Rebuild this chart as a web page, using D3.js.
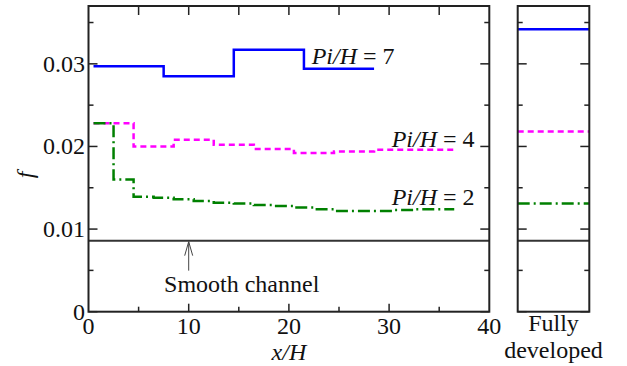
<!DOCTYPE html>
<html>
<head>
<meta charset="utf-8">
<script src="https://cdn.jsdelivr.net/npm/d3@7"></script>
<style>
  body { margin: 0; background: #ffffff; }
</style>
</head>
<body>
<div id="chart"></div>
<script>
// step edges (x/H) and friction factor values for each rib pitch
const edges7 = [0.5, 7.5, 14.5, 21.5, 28.5]
const vals7 = [0.0297, 0.0285, 0.0317, 0.0294]
const edges4 = [0.5, 4.5, 8.5, 12.5, 16.5, 20.5, 24.5, 28.5, 36.5]
const vals4 = [0.0228, 0.0200, 0.0208, 0.0202, 0.0197, 0.0192, 0.0194, 0.0196]
const edges2 = [0.5, 2.5, 4.5, 6.5, 8.5, 10.5, 12.5, 14.5, 16.5, 18.5, 20.5, 22.5, 24.5, 26.5, 28.5, 30.5, 32.5, 34.5, 36.5]
const vals2 = [0.0228, 0.0160, 0.0139, 0.0138, 0.0136, 0.0134, 0.0132, 0.0131, 0.0129, 0.0128, 0.0126, 0.0124, 0.0122, 0.0122, 0.0122, 0.0123, 0.0124, 0.0124]
// fully developed values
const fully = [0.0342, 0.0218, 0.0131]
const smoothF = 0.0086

const xTicks = [0, 10, 20, 30, 40]
const yTicks = [0, 0.01, 0.02, 0.03]
const yTickLabels = ['0', '0.01', '0.02', '0.03']

const series = [
  { edges: edges7, vals: vals7, full: fully[0], color: '#0000ff', dash: null, label: '7' },
  { edges: edges4, vals: vals4, full: fully[1], color: '#ff00ff', dash: '6,4', label: '4' },
  { edges: edges2, vals: vals2, full: fully[2], color: '#008000', dash: '12,4,2,4', label: '2' }
]

const W = 627, H = 366
const FONT = '"Liberation Serif"'
const FS = '24px'
const svg = d3.select('#chart').append('svg')
  .attr('width', W).attr('height', H)

function label(sel) {
  return sel.style('font-family', FONT).style('font-size', FS).style('fill', '#111')
}

// main panel
const x = d3.scaleLinear().domain([0, 40]).range([88.5, 489.3])
const y = d3.scaleLinear().domain([0, 0.037]).range([311.7, 6])
// fully developed panel
const x2 = d3.scaleLinear().domain([0, 1]).range([517.7, 589.3])

function stepPoints(edges, vals) {
  const pts = vals.map((v, i) => [edges[i], v])
  pts.push([edges[edges.length - 1], vals[vals.length - 1]])
  return pts
}

const line = d3.line()
  .x(d => x(d[0]))
  .y(d => y(d[1]))
  .curve(d3.curveStepAfter)

// smooth channel lines
svg.append('line')
  .attr('x1', x(0)).attr('x2', x(40))
  .attr('y1', y(smoothF)).attr('y2', y(smoothF))
  .attr('stroke', '#333').attr('stroke-width', 2)
svg.append('line')
  .attr('x1', x2(0)).attr('x2', x2(1))
  .attr('y1', y(smoothF)).attr('y2', y(smoothF))
  .attr('stroke', '#333').attr('stroke-width', 2)

series.forEach(s => {
  svg.append('path')
    .datum(stepPoints(s.edges, s.vals))
    .attr('d', line)
    .attr('fill', 'none')
    .attr('stroke', s.color)
    .attr('stroke-width', 2.5)
    .attr('stroke-dasharray', s.dash)
  svg.append('line')
    .attr('x1', x2(0)).attr('x2', x2(1))
    .attr('y1', y(s.full)).attr('y2', y(s.full))
    .attr('stroke', s.color)
    .attr('stroke-width', 2.5)
    .attr('stroke-dasharray', s.dash)
})

// axes with inward ticks
function drawFrame(xs) {
  const [x0, x1] = xs.range()
  const g = svg.append('g')
  const yMinor = d3.range(0, 0.0351, 0.005)
  yMinor.forEach(v => {
    const major = Math.abs(v / 0.01 - Math.round(v / 0.01)) < 1e-6
    const len = major ? 9 : 5
    g.append('line').attr('x1', x0).attr('x2', x0 + len)
      .attr('y1', y(v)).attr('y2', y(v)).attr('stroke', '#222').attr('stroke-width', 1.5)
    g.append('line').attr('x1', x1).attr('x2', x1 - len)
      .attr('y1', y(v)).attr('y2', y(v)).attr('stroke', '#222').attr('stroke-width', 1.5)
  })
  g.append('rect')
    .attr('x', x0).attr('y', y.range()[1])
    .attr('width', x1 - x0).attr('height', y.range()[0] - y.range()[1])
    .attr('fill', 'none').attr('stroke', '#222').attr('stroke-width', 2)
  return g
}

const gMain = drawFrame(x)
d3.range(5, 40, 5).forEach(v => {
  const len = v % 10 === 0 ? 8 : 5
  gMain.append('line').attr('x1', x(v)).attr('x2', x(v))
    .attr('y1', y(0)).attr('y2', y(0) - len).attr('stroke', '#222').attr('stroke-width', 1.5)
  gMain.append('line').attr('x1', x(v)).attr('x2', x(v))
    .attr('y1', y.range()[1]).attr('y2', y.range()[1] + 9).attr('stroke', '#222').attr('stroke-width', 1.5)
})
drawFrame(x2)

// tick labels
svg.selectAll('.xtl').data(xTicks).enter().append('text')
  .attr('class', 'xtl')
  .attr('x', d => x(d)).attr('y', 333.5)
  .attr('text-anchor', 'middle')
  .call(label)
  .text(d => d)
svg.selectAll('.ytl').data(yTicks).enter().append('text')
  .attr('class', 'ytl')
  .attr('x', 85).attr('y', d => y(d) + 8)
  .attr('text-anchor', 'end')
  .call(label)
  .text((d, i) => yTickLabels[i])

// axis titles
svg.append('text')
  .attr('x', x(20)).attr('y', 360)
  .attr('text-anchor', 'middle')
  .call(label).style('font-style', 'italic')
  .text('x/H')
svg.append('text')
  .attr('transform', 'translate(33,175) rotate(-90)')
  .attr('text-anchor', 'middle')
  .call(label).style('font-style', 'italic')
  .text('f')

svg.append('text')
  .attr('x', x2(0.5)).attr('y', 331)
  .attr('text-anchor', 'middle')
  .call(label)
  .text('Fully')
svg.append('text')
  .attr('x', x2(0.5)).attr('y', 357.5)
  .attr('text-anchor', 'middle')
  .call(label)
  .text('developed')

// series labels
const labelPos = [[311.7, 63.5], [391.7, 146.5], [391.7, 205]]
series.forEach((s, i) => {
  const t = svg.append('text')
    .attr('x', labelPos[i][0]).attr('y', labelPos[i][1])
    .call(label)
  t.append('tspan').style('font-style', 'italic').text('Pi/H')
  t.append('tspan').text(' = ' + s.label)
})

// smooth channel annotation
const ax = x(10)
svg.append('path')
  .attr('d', `M${ax},${y(smoothF) + 30} L${ax},${y(smoothF) + 1} M${ax - 4},${y(smoothF) + 15} L${ax},${y(smoothF) + 1} L${ax + 4},${y(smoothF) + 15}`)
  .attr('fill', 'none').attr('stroke', '#444').attr('stroke-width', 1)
svg.append('text')
  .attr('x', 241.7).attr('y', 292)
  .attr('text-anchor', 'middle')
  .call(label)
  .text('Smooth channel')
</script>
</body>
</html>
